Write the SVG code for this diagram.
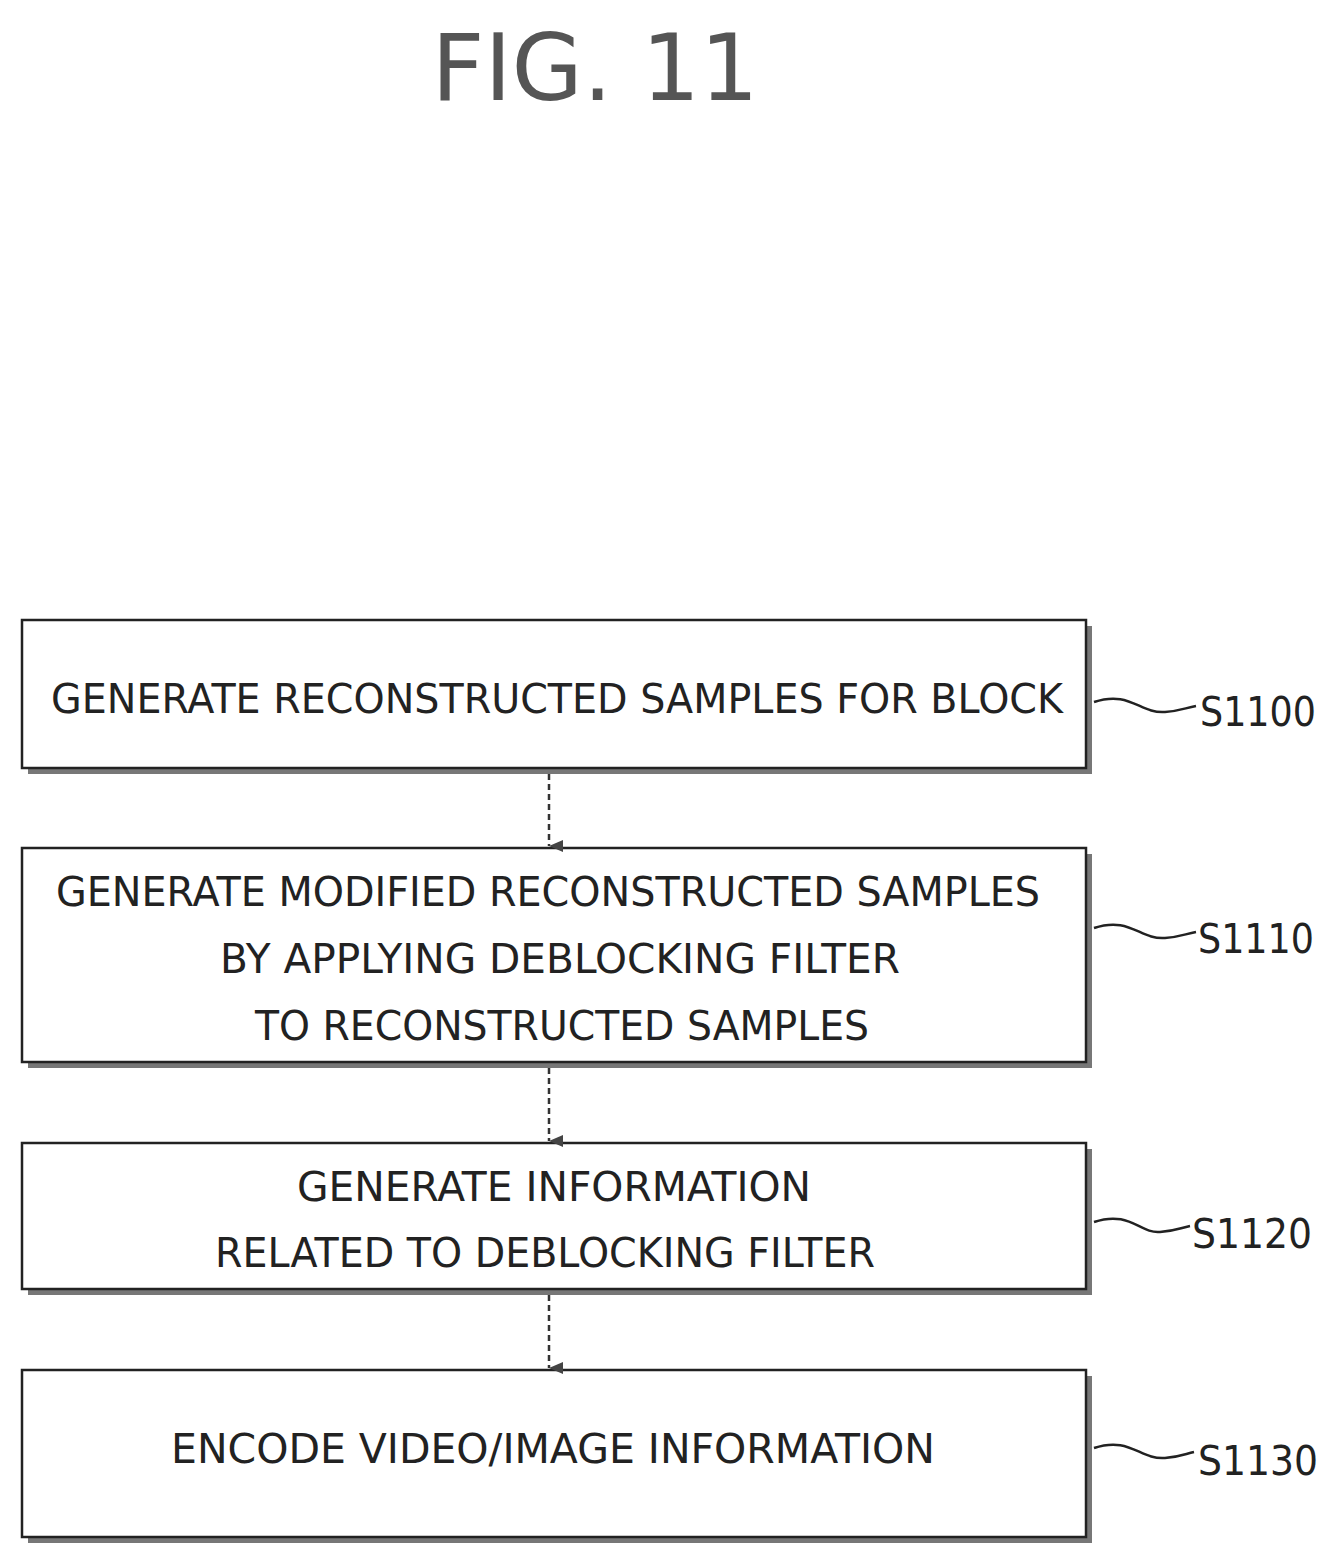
<svg xmlns="http://www.w3.org/2000/svg" width="1336" height="1548" viewBox="0 0 1336 1548">
<defs>
<style>
.box{fill:#fff;stroke:#222;stroke-width:2.5}
.sh{fill:#777}
.t{font-family:"DejaVu Sans","Liberation Sans",sans-serif;font-size:40px;fill:#222;text-anchor:middle}
.lb{font-family:"DejaVu Sans","Liberation Sans",sans-serif;font-size:40px;fill:#222}
.c{fill:none;stroke:#222;stroke-width:2.5}
.d{fill:none;stroke:#333;stroke-width:2.5;stroke-dasharray:6 4}
</style>
<marker id="ah" markerWidth="12" markerHeight="14" refX="6" refY="14" orient="auto" markerUnits="userSpaceOnUse"><path d="M0,0 L6,14 L12,0 Z" fill="#444"/></marker>
</defs>
<rect width="1336" height="1548" fill="#fff"/>
<text x="595" y="100" font-family="DejaVu Sans,Liberation Sans,sans-serif" font-size="92" fill="#555" text-anchor="middle">FIG. 11</text>
<g id="n1"><rect class="sh" x="28" y="626" width="1064" height="148"/><rect class="box" x="22" y="620" width="1064" height="148"/><text class="t" x="557" y="713" textLength="1012" lengthAdjust="spacingAndGlyphs">GENERATE RECONSTRUCTED SAMPLES FOR BLOCK</text></g>
<g id="n2"><rect class="sh" x="28" y="854" width="1064" height="214"/><rect class="box" x="22" y="848" width="1064" height="214"/><text class="t" x="548" y="906" textLength="984" lengthAdjust="spacingAndGlyphs">GENERATE MODIFIED RECONSTRUCTED SAMPLES</text><text class="t" x="560" y="973" textLength="680" lengthAdjust="spacingAndGlyphs">BY APPLYING DEBLOCKING FILTER</text><text class="t" x="562" y="1040" textLength="614" lengthAdjust="spacingAndGlyphs">TO RECONSTRUCTED SAMPLES</text></g>
<g id="n3"><rect class="sh" x="28" y="1149" width="1064" height="146"/><rect class="box" x="22" y="1143" width="1064" height="146"/><text class="t" x="554" y="1201" textLength="514" lengthAdjust="spacingAndGlyphs">GENERATE INFORMATION</text><text class="t" x="545" y="1267" textLength="660" lengthAdjust="spacingAndGlyphs">RELATED TO DEBLOCKING FILTER</text></g>
<g id="n4"><rect class="sh" x="28" y="1376" width="1064" height="167"/><rect class="box" x="22" y="1370" width="1064" height="167"/><text class="t" x="553" y="1463" textLength="764" lengthAdjust="spacingAndGlyphs">ENCODE VIDEO/IMAGE INFORMATION</text></g>
<g id="labels">
<text class="lb" x="1200" y="726" textLength="116" lengthAdjust="spacingAndGlyphs">S1100</text>
<text class="lb" x="1198" y="953" textLength="116" lengthAdjust="spacingAndGlyphs">S1110</text>
<text class="lb" x="1192" y="1248" textLength="120" lengthAdjust="spacingAndGlyphs">S1120</text>
<text class="lb" x="1198" y="1475" textLength="120" lengthAdjust="spacingAndGlyphs">S1130</text>
</g>
<g id="connectors">
<path class="d" d="M549,774 V846" marker-end="url(#ah)"/>
<path class="d" d="M549,1068 V1141" marker-end="url(#ah)"/>
<path class="d" d="M549,1295 V1368" marker-end="url(#ah)"/>
<path class="c" d="M1094,702 C1130,690 1140,714 1165,712 C1180,711 1185,708 1196,706"/>
<path class="c" d="M1094,928 C1130,916 1140,940 1165,938 C1180,937 1185,934 1196,932"/>
<path class="c" d="M1094,1222 C1130,1210 1140,1234 1160,1232 C1175,1231 1180,1228 1190,1226"/>
<path class="c" d="M1094,1448 C1130,1436 1140,1460 1165,1458 C1180,1457 1185,1454 1194,1452"/>
</g>
</svg>
